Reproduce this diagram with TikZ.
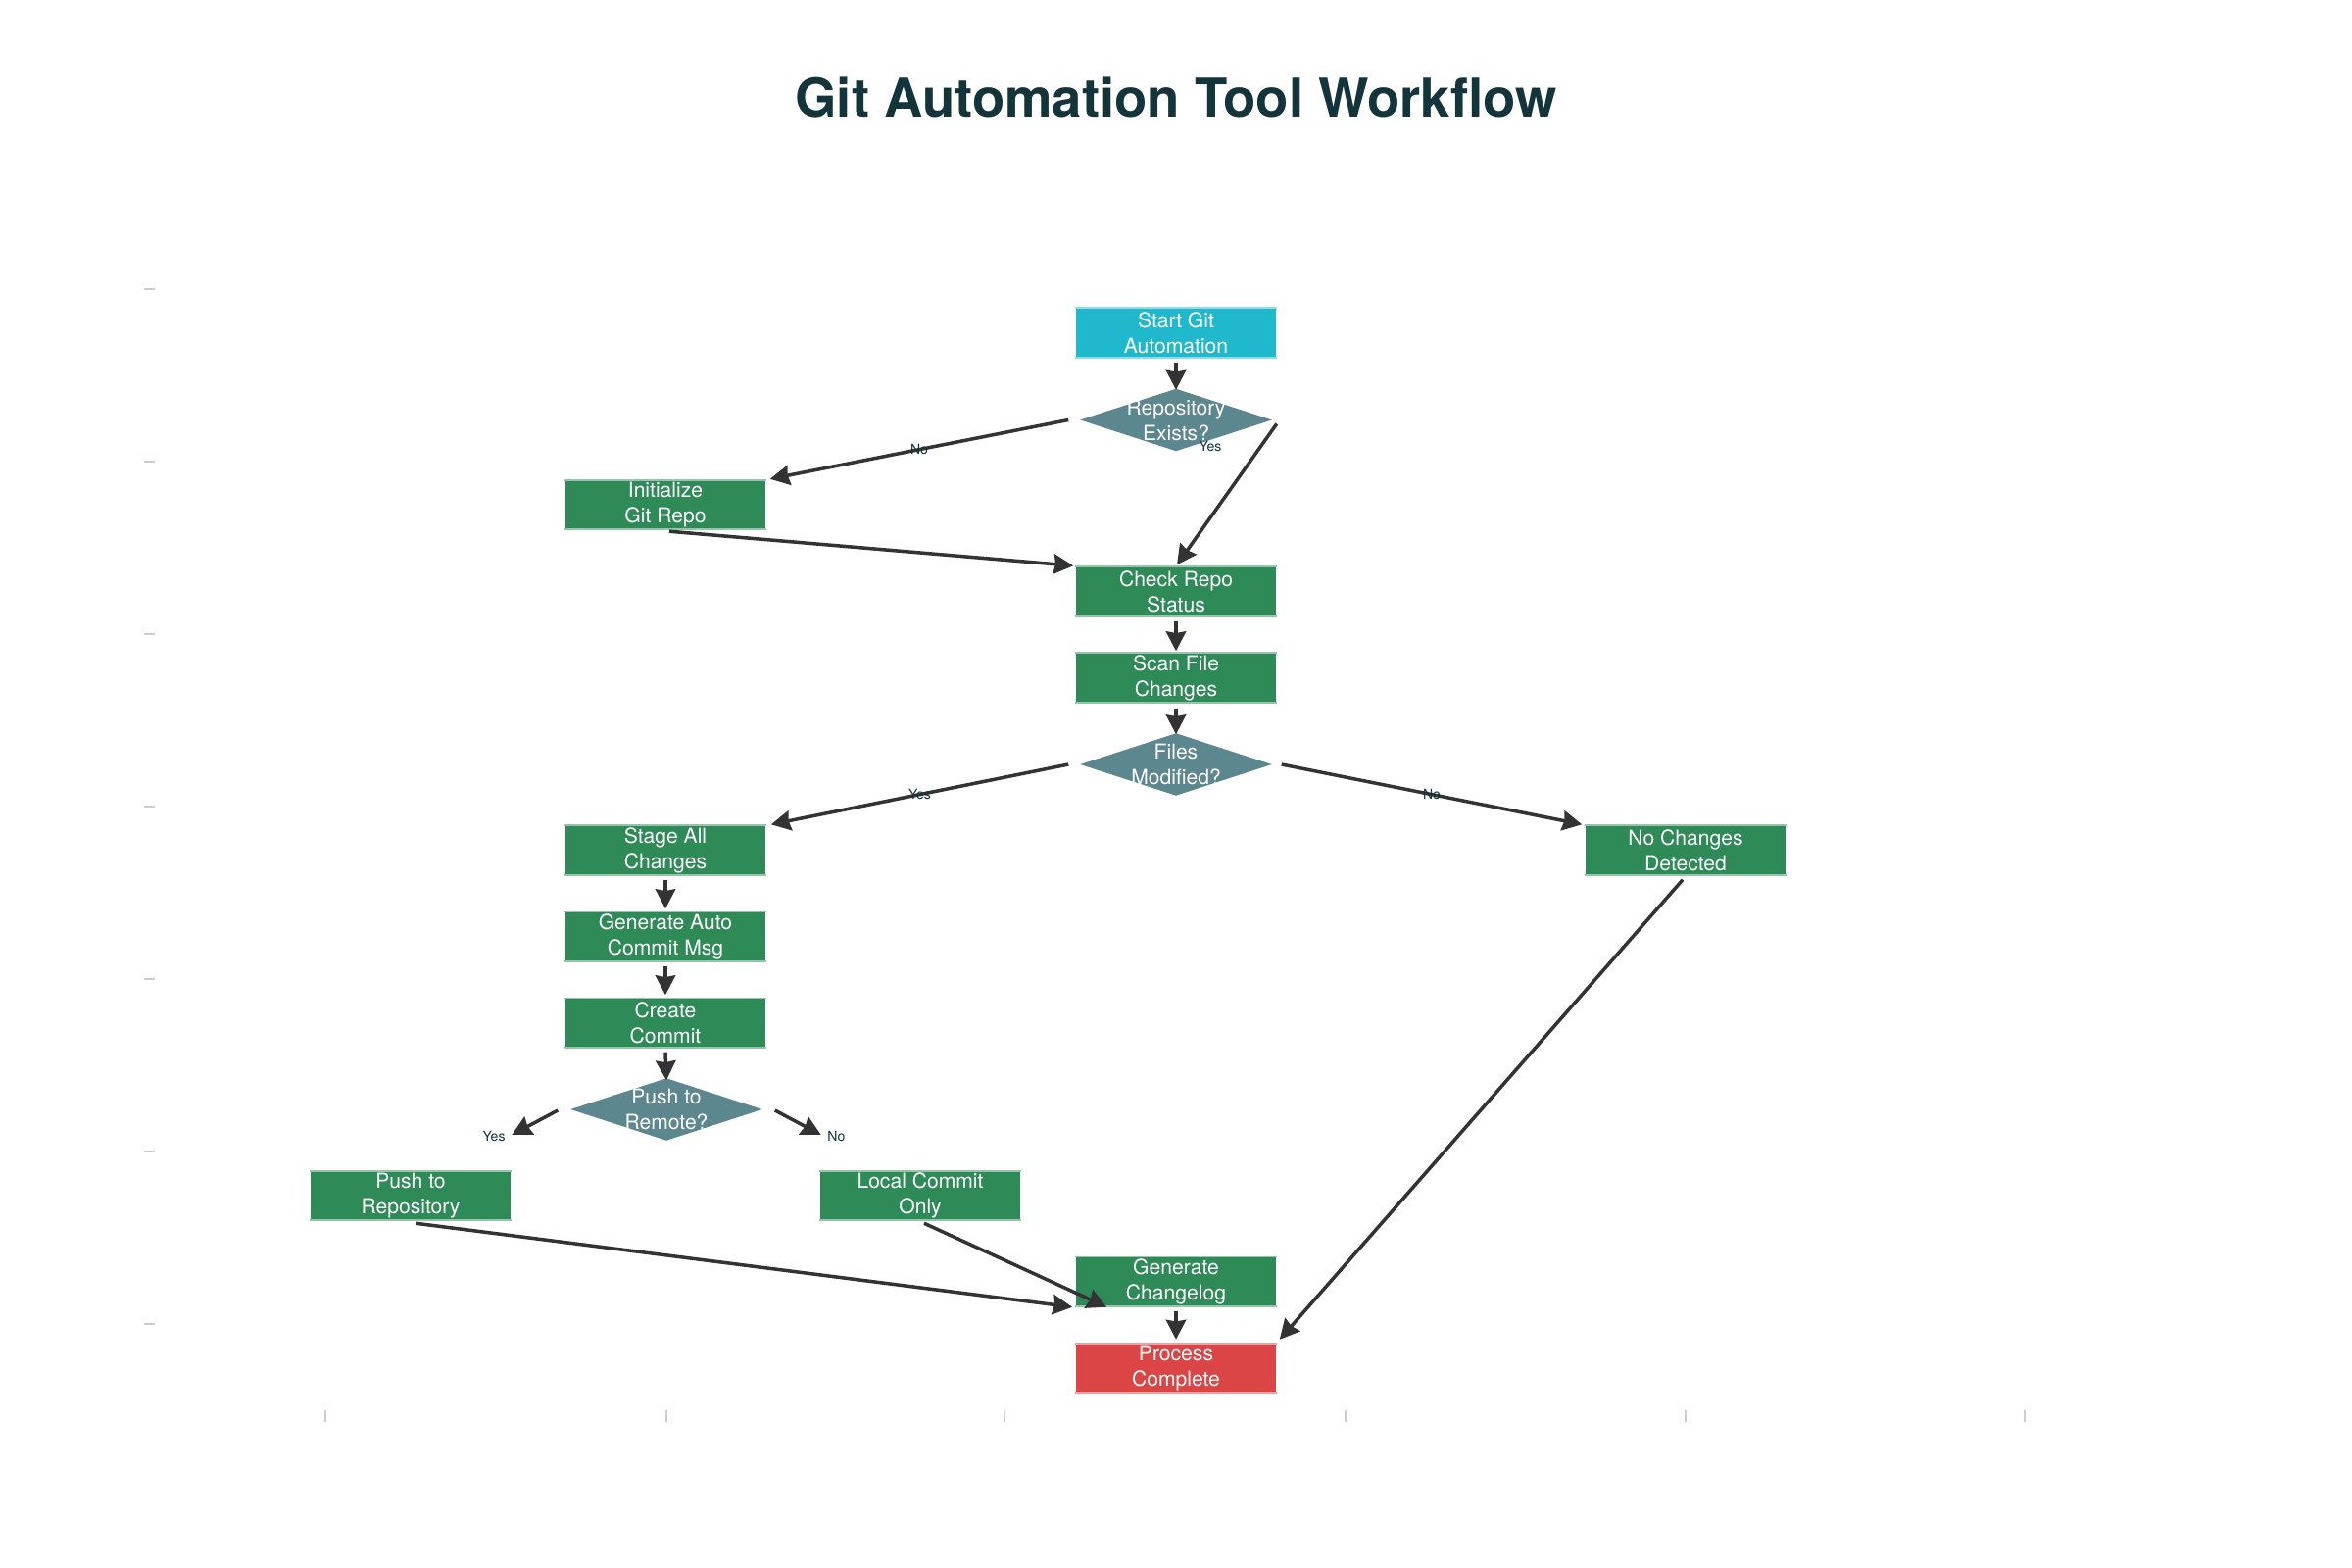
\documentclass[tikz,border=0pt]{standalone}
\usepackage{fontspec}
\setmainfont{TeX Gyre Heros}
\usetikzlibrary{arrows.meta,calc,shapes.geometric}
\definecolor{cyanc}{HTML}{1FB8CD}
\definecolor{greenc}{HTML}{2E8B57}
\definecolor{tealc}{HTML}{5D878F}
\definecolor{redc}{HTML}{DB4545}
\definecolor{titlec}{HTML}{13343B}
\definecolor{arrowc}{HTML}{333333}
\definecolor{tickc}{HTML}{CCCCCC}
\begin{document}
\begin{tikzpicture}[x=0.01cm,y=-0.01cm,
 box/.style={rectangle, minimum width=2.04cm, minimum height=0.49cm, inner sep=0pt, text=white, font=\fontsize{6}{7.4}\selectfont, align=center},
 edged/.style={append after command={
   (\tikzlastnode.north west) edge[draw=#1, line width=0.45pt] (\tikzlastnode.north east)
   (\tikzlastnode.south west) edge[draw=#1, line width=0.45pt] (\tikzlastnode.south east)}},
 proc/.style={box, fill=greenc, edged=greenc!50!white},
 startbox/.style={box, fill=cyanc, edged=cyanc!50!white},
 endbox/.style={box, fill=redc, edged=redc!50!white},
 decision/.style={diamond, fill=tealc, minimum width=1.96cm, minimum height=0.64cm, inner sep=0pt},
 dtext/.style={text=white, font=\fontsize{6}{7.4}\selectfont, align=center, inner sep=0pt},
 flow/.style={draw=arrowc, line width=1pt, -{Stealth[length=5.7pt,width=5.8pt,inset=0.5pt]}},
 elab/.style={text=titlec, font=\fontsize{4}{4.8}\selectfont, inner sep=0pt},
 tickmark/.style={draw=tickc, line width=0.4pt}
]
\useasboundingbox (0,0) rectangle (2400,1600);

% title
\node[anchor=base, text=titlec, font=\fontsize{15.5}{18}\selectfont\bfseries] (title) at (1200,120) {Git Automation Tool Workflow};

% axis ticks
\foreach \yy in {295,471,647,823,999,1175,1351} \draw[tickmark] (147,\yy) -- (158,\yy);
\foreach \xx in {332,680,1025,1373,1720,2066} \draw[tickmark] (\xx,1439) -- (\xx,1451);

% nodes
\node[startbox] (start) at (1200,339.5) {Start Git\\Automation};
\node[decision, label={[dtext]center:Repository\\Exists?}] (repo) at (1200,428.5) {};
\node[proc] (init) at (679,515) {Initialize\\Git Repo};
\node[proc] (check) at (1200,603.5) {Check Repo\\Status};
\node[proc] (scan) at (1200,691.5) {Scan File\\Changes};
\node[decision, label={[dtext]center:Files\\Modified?}] (files) at (1200,780) {};
\node[proc] (stage) at (679,867.5) {Stage All\\Changes};
\node[proc] (nochg) at (1720,867.5) {No Changes\\Detected};
\node[proc] (genauto) at (679,955.5) {Generate Auto\\Commit Msg};
\node[proc] (create) at (679,1043.5) {Create\\Commit};
\node[decision, label={[dtext]center:Push to\\Remote?}] (push) at (680,1132) {};
\node[proc] (pushrepo) at (419,1220) {Push to\\Repository};
\node[proc] (local) at (939,1220) {Local Commit\\Only};
\node[proc] (changelog) at (1200,1307.5) {Generate\\Changelog};
\node[endbox] (process) at (1200,1396) {Process\\Complete};

% free ends
\coordinate (yesend) at ($(push.west)+(-59,26)$);
\coordinate (noend) at ($(push.east)+(59,26)$);

% connectors
\draw[flow] ($(start.south)+(0,5)$) -- ($(repo.north)+(0,2)$);
\draw[flow] ($(repo.west)+(-11,0)$) -- node[elab, pos=0.5] {No} ($(init.north east)+(4,-1)$);
\draw[flow] ($(repo.east)+(4,4)$) -- ($(check.north)+(1,-2)$);
\node[elab] (lyes1) at ($(repo.center)+(35,27)$) {Yes};
\draw[flow] ($(init.south)+(4,2)$) -- ($(check.north west)+(-2,-1)$);
\draw[flow] ($(check.south)+(0,5)$) -- ($(scan.north)+(0,-2)$);
\draw[flow] ($(scan.south)+(0,6)$) -- ($(files.north)+(0,2)$);
\draw[flow] ($(files.west)+(-11,0)$) -- node[elab, pos=0.5] {Yes} ($(stage.north east)+(5,-1)$);
\draw[flow] ($(files.east)+(9,0)$) -- node[elab, pos=0.5] {No} ($(nochg.north west)+(-3,-1)$);
\draw[flow] ($(stage.south)+(0,5)$) -- ($(genauto.north)+(0,-3)$);
\draw[flow] ($(genauto.south)+(0,5)$) -- ($(create.north)+(0,-3)$);
\draw[flow] ($(create.south)+(0,5)$) -- ($(push.north)+(0,3)$);
\draw[flow] ($(push.west)+(-12,1)$) -- (yesend);
\node[elab, anchor=east] (lyes3) at ($(yesend)+(-6,1)$) {Yes};
\draw[flow] ($(push.east)+(12,1)$) -- (noend);
\node[elab, anchor=west] (lno3) at ($(noend)+(6,1)$) {No};
\draw[flow] ($(pushrepo.south)+(5,3)$) -- ($(changelog.south west)+(-3,1)$);
\draw[flow] ($(local.south)+(4,3)$) -- ($(changelog.south west)+(32,1)$);
\draw[flow] ($(changelog.south)+(0,5)$) -- ($(process.north)+(0,-4)$);
\draw[flow] ($(nochg.south)+(-3,5)$) -- ($(process.north east)+(3,-4)$);
\end{tikzpicture}
\end{document}
